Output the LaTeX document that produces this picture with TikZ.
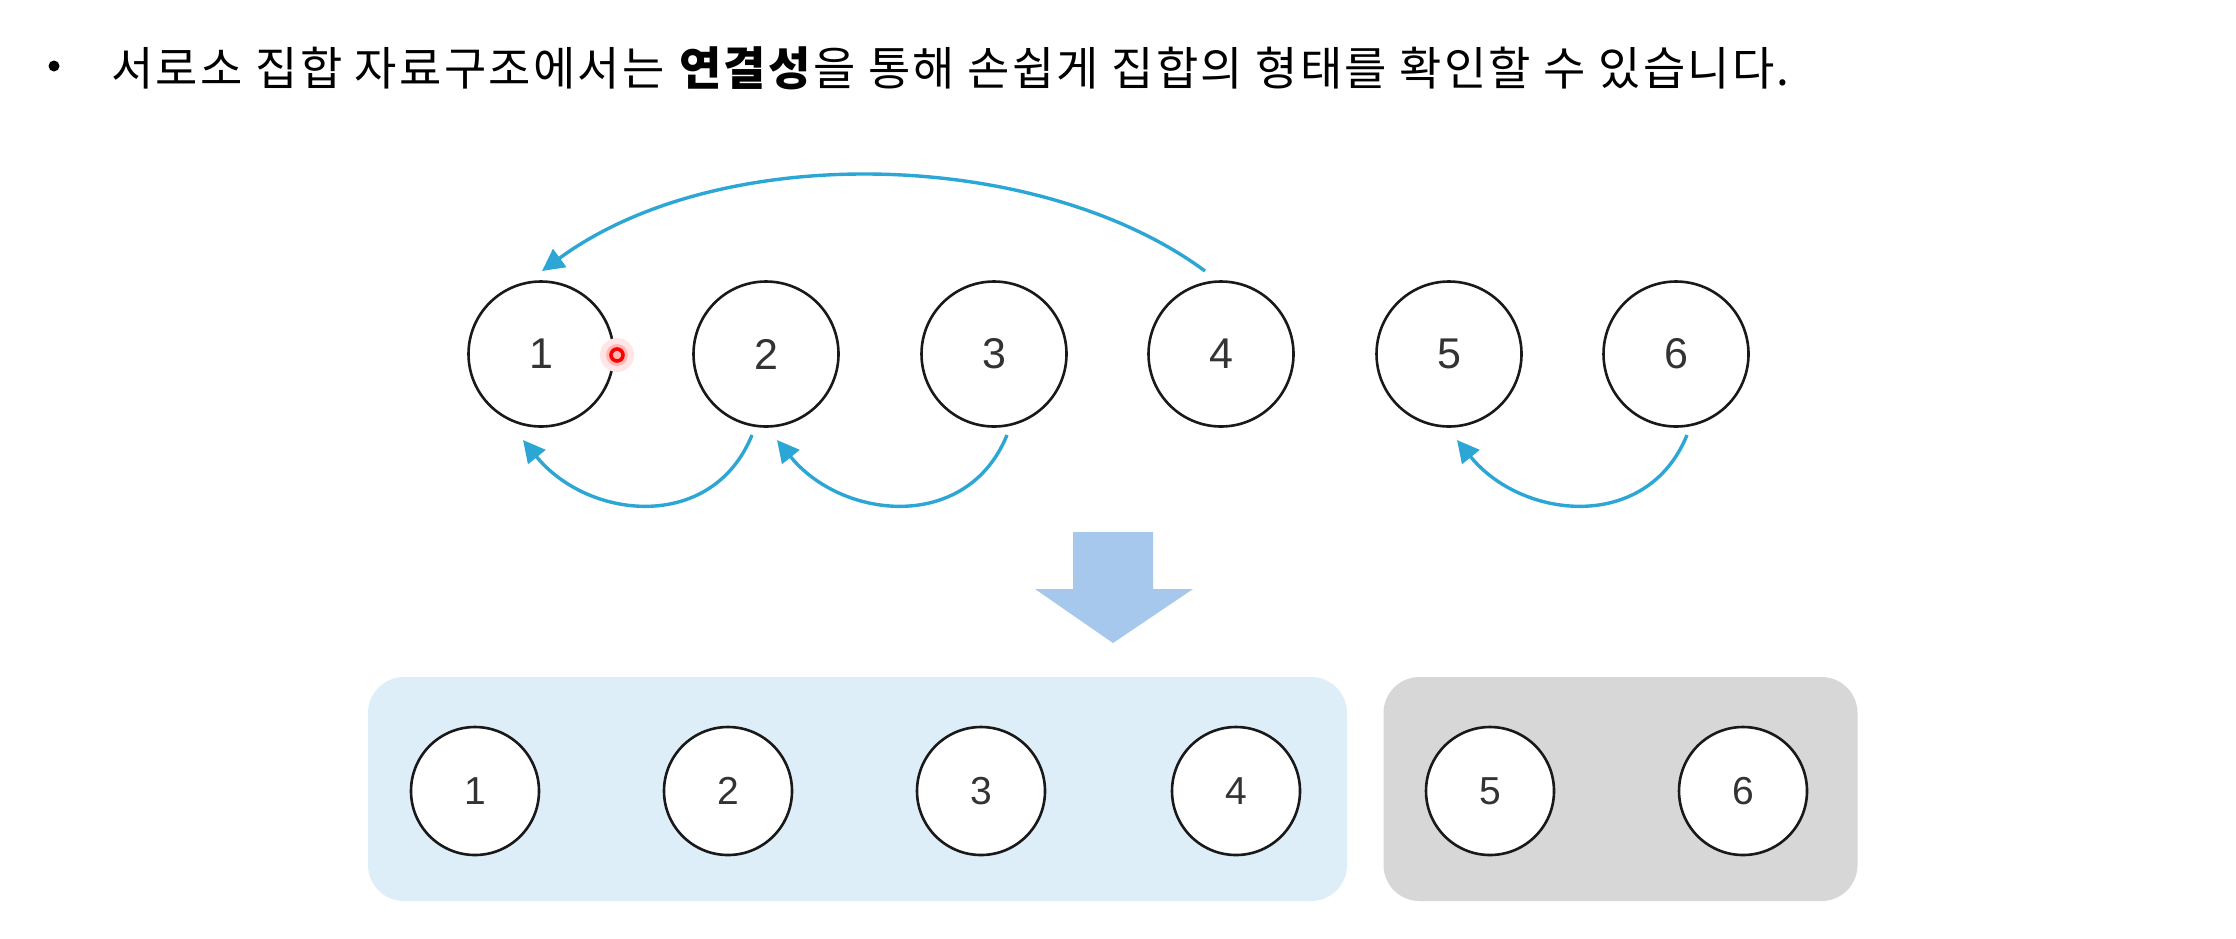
\documentclass[tikz,border=0pt]{standalone}
\usepackage{fontspec}
\setmainfont{Liberation Sans}
\newfontfamily\krfont[LetterSpace=4.9]{Noto Sans CJK KR}
\usetikzlibrary{arrows.meta}
\definecolor{arrowblue}{HTML}{2BA6D5}
\definecolor{bigarrow}{HTML}{A5C8EC}
\definecolor{boxblue}{HTML}{DDEEF8}
\definecolor{boxgray}{HTML}{D7D7D8}
\definecolor{numgray}{HTML}{333333}
\begin{document}
\begin{tikzpicture}[x=0.5pt,y=-0.5pt,
  topcirc/.style={circle, draw=black!90, line width=1.3pt, fill=white, minimum size=72.5pt, inner sep=0pt, text=numgray, font=\fontsize{21.5}{24}\selectfont},
  botcirc/.style={circle, draw=black!90, line width=1.3pt, fill=white, minimum size=64pt, inner sep=0pt, text=numgray, font=\fontsize{19.5}{22}\selectfont},
  conn/.style={draw=arrowblue, line width=1.7pt, -{Triangle[length=11pt,width=11pt]}},
  groupbox/.style={rounded corners=18pt, inner sep=0pt}
]
\useasboundingbox (0,0) rectangle (2236,938);
\fill[white] (0,0) rectangle (2236,938);

% title
\node[circle, fill=black, minimum size=5.5pt, inner sep=0pt] (bullet) at (54,66) {};
\node[anchor=base west, inner sep=0pt, font=\krfont\fontsize{23}{26}\selectfont] (title) at (111,85)
  {서로소 집합 자료구조에서는 \textbf{연결성}을 통해 손쉽게 집합의 형태를 확인할 수 있습니다.};

% top circles
\node[topcirc] (c1) at (541,354) {1};
\node[topcirc] (c2) at (766,354) {2};
\node[topcirc] (c3) at (994,354) {3};
\node[topcirc] (c4) at (1221,354) {4};
\node[topcirc] (c5) at (1449,354) {5};
\node[topcirc] (c6) at (1676,354) {6};

% connectors
\draw[conn] ([shift={(-16,-83)}]c4.center) .. controls +(-165,-122) and +(180,-132) .. ([shift={(1,-83)}]c1.center);
\draw[conn] ([shift={(-14,81)}]c2.center) .. controls +(-40,98) and +(65,80) .. ([shift={(-18,86)}]c1.center);
\draw[conn] ([shift={(13,81)}]c3.center) .. controls +(-40,98) and +(65,80) .. ([shift={(11,86)}]c2.center);
\draw[conn] ([shift={(11,81)}]c6.center) .. controls +(-40,98) and +(65,80) .. ([shift={(8,86)}]c5.center);

% pointer mark
\fill[red!10] (617,355) circle (17);
\fill[red!28] (617,355) circle (11);
\draw[red, line width=1.8pt] (617,355) circle (6);

% big arrow
\fill[bigarrow] (1073,532) -- (1153,532) -- (1153,589) -- (1193,589) -- (1113,643) -- (1035,589) -- (1073,589) -- cycle;

% groups
\node[groupbox, fill=boxblue, minimum width=489.5pt, minimum height=112pt] (gA) at (857.5,789) {};
\node[groupbox, fill=boxgray, minimum width=237pt, minimum height=112pt] (gB) at (1620.5,789) {};

% bottom circles
\node[botcirc] (d1) at (475,791) {1};
\node[botcirc] (d2) at (728,791) {2};
\node[botcirc] (d3) at (981,791) {3};
\node[botcirc] (d4) at (1236,791) {4};
\node[botcirc] (d5) at (1490,791) {5};
\node[botcirc] (d6) at (1743,791) {6};
\end{tikzpicture}
\end{document}
